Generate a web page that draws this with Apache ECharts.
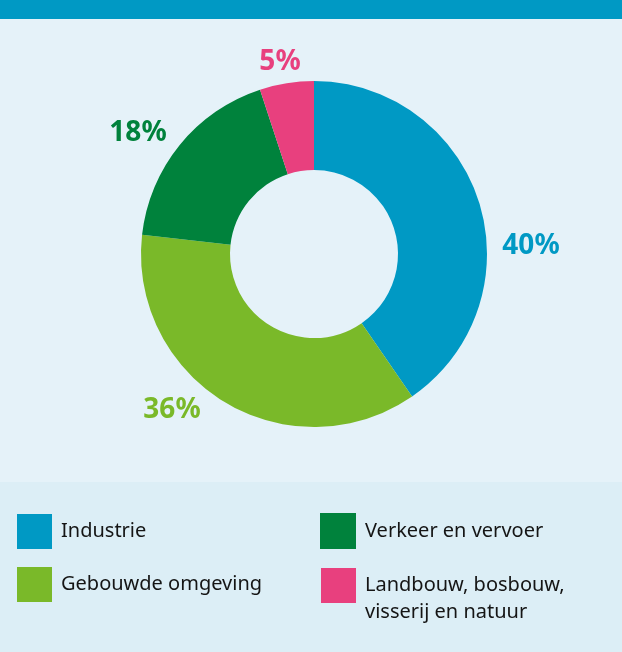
<!DOCTYPE html>
<html>
<head>
<meta charset="utf-8">
<script src="https://cdn.jsdelivr.net/npm/echarts@6/dist/echarts.min.js"></script>
<style>
html,body{margin:0;padding:0;background:#E5F2F9;}
#chart{width:622px;height:652px;}
</style>
</head>
<body>
<div id="chart"></div>
<script>
var categories = ['Industrie', 'Gebouwde omgeving', 'Verkeer en vervoer', 'Landbouw, bosbouw, visserij en natuur'];
var values = [40, 36, 18, 5];
var colors = ['#0099C4', '#7AB929', '#00823C', '#E8407E'];
var labelCenters = [[531, 246], [172, 410], [138, 133], [280, 62]];

var legendText = { fontFamily: 'Noto Sans', fontSize: 20, color: '#151515', padding: [0, 0, 0, 4] };

var chart = echarts.init(document.getElementById('chart'), null, { renderer: 'canvas' });
chart.setOption({
  backgroundColor: '#E5F2F9',
  animation: false,
  graphic: [
    { type: 'rect', shape: { x: 0, y: 0, width: 622, height: 19 }, style: { fill: '#0099C4' }, silent: true },
    { type: 'rect', shape: { x: 0, y: 482, width: 622, height: 170 }, style: { fill: '#DCEEF6' }, silent: true, z: -1 }
  ],
  legend: [
    {
      left: 17, top: 514, orient: 'vertical', padding: 0,
      itemWidth: 35, itemHeight: 35, itemGap: 18, icon: 'rect',
      data: [categories[0], categories[1]],
      textStyle: legendText
    },
    {
      left: 320, top: 513, orient: 'vertical', padding: 0,
      itemWidth: 36, itemHeight: 36, icon: 'rect',
      data: [categories[2]],
      textStyle: legendText
    },
    {
      left: 321, top: 545, orient: 'vertical', padding: 0,
      itemWidth: 35, itemHeight: 35, icon: 'rect',
      data: [categories[3]],
      formatter: function () { return ' \nLandbouw, bosbouw,\nvisserij en natuur'; },
      textStyle: { fontFamily: 'Noto Sans', fontSize: 20, color: '#151515', lineHeight: 27, padding: [0, 0, 0, 4] }
    }
  ],
  series: [{
    type: 'pie',
    center: [314, 254],
    radius: [84, 173],
    startAngle: 90,
    clockwise: true,
    silent: true,
    data: categories.map(function (c, i) {
      return { name: c, value: values[i], itemStyle: { color: colors[i] } };
    }),
    label: {
      show: true,
      position: 'outside',
      formatter: '{c}%',
      color: 'inherit',
      fontFamily: 'Noto Sans',
      fontWeight: 'bold',
      fontSize: 28
    },
    labelLine: { show: false },
    labelLayout: function (p) {
      var c = labelCenters[p.dataIndex];
      return { x: c[0], y: c[1], align: 'center', verticalAlign: 'middle' };
    }
  }]
});
</script>
</body>
</html>
